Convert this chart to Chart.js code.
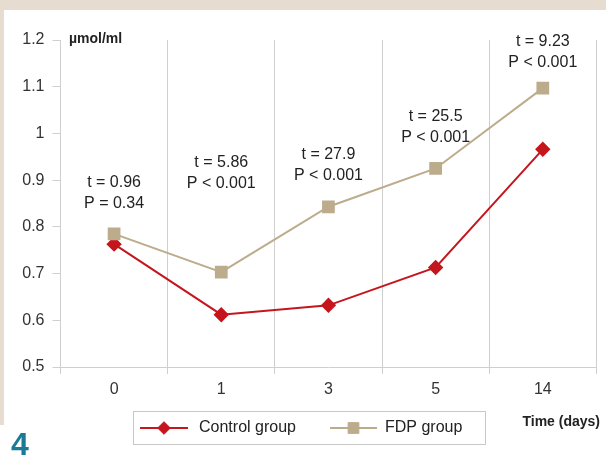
<!DOCTYPE html>
<html>
<head>
<meta charset="utf-8">
<script src="https://cdn.jsdelivr.net/npm/chart.js@4.4.0/dist/chart.umd.min.js"></script>
<style>
html,body{margin:0;padding:0;background:#fff;}
canvas{display:block;}
</style>
</head>
<body>
<canvas id="c" width="606" height="457"></canvas>
<script>
// ---- data ----
const categories = ["0", "1", "3", "5", "14"];
const controlValues = [0.763, 0.612, 0.632, 0.713, 0.966];
const fdpValues = [0.785, 0.703, 0.843, 0.925, 1.097];
const seriesNames = ["Control group", "FDP group"];
const tStats = ["t = 0.96", "t = 5.86", "t = 27.9", "t = 25.5", "t = 9.23"];
const pStats = ["P = 0.34", "P < 0.001", "P < 0.001", "P < 0.001", "P < 0.001"];
const annotationAnchor = [0.894, 0.937, 0.954, 1.035, 1.196]; // y value of first text line
const yTitle = "µmol/ml";
const xTitle = "Time (days)";
const figureNumber = "4";

const RED = "#c4161c";
const TAN = "#bcac8c";
const GRID = "#cfcfcf";
const FONT = "'Liberation Sans', Arial, sans-serif";

const decor = {
  id: "decor",
  beforeDraw(chart) {
    const ctx = chart.ctx;
    ctx.save();
    ctx.fillStyle = "#fff";
    ctx.fillRect(0, 0, chart.width, chart.height);
    ctx.fillStyle = "#e6ddd0";
    ctx.fillRect(0, 0, chart.width, 10);
    ctx.fillRect(0, 0, 4, 425);
    ctx.restore();
  },
  afterDraw(chart) {
    const ctx = chart.ctx;
    const xs = chart.scales.x, ys = chart.scales.y;
    ctx.save();
    // annotations
    ctx.fillStyle = "#222";
    ctx.font = "16px " + FONT;
    ctx.textAlign = "center";
    ctx.textBaseline = "middle";
    categories.forEach((c, i) => {
      const x = xs.getPixelForValue(i);
      const y = ys.getPixelForValue(annotationAnchor[i]);
      ctx.fillText(tStats[i], x, y);
      ctx.fillText(pStats[i], x, y + 21);
    });
    // axis titles
    ctx.font = "bold 14px " + FONT;
    ctx.textAlign = "left";
    ctx.fillText(yTitle, 69, 39);
    ctx.textAlign = "right";
    ctx.fillText(xTitle, 600, 422);
    // legend
    ctx.strokeStyle = "#c8c8c8";
    ctx.lineWidth = 1;
    ctx.fillStyle = "#fff";
    ctx.fillRect(133.5, 411.5, 352, 33);
    ctx.strokeRect(133.5, 411.5, 352, 33);
    const ly = 428;
    const ds = chart.data.datasets;
    const entries = [{x0: 140, x1: 188, tx: 199}, {x0: 330, x1: 377, tx: 385}];
    entries.forEach((e, i) => {
      const d = ds.find(s => s.label === seriesNames[i]);
      ctx.strokeStyle = d.borderColor;
      ctx.lineWidth = 2;
      ctx.beginPath(); ctx.moveTo(e.x0, ly); ctx.lineTo(e.x1, ly); ctx.stroke();
      ctx.fillStyle = d.pointBackgroundColor;
      ctx.strokeStyle = d.pointBackgroundColor;
      ctx.lineWidth = 1;
      Chart.helpers.drawPoint(ctx, {pointStyle: d.pointStyle, radius: d.pointRadius, borderWidth: 1, rotation: 0}, (e.x0 + e.x1) / 2, ly);
      ctx.fillStyle = "#222";
      ctx.font = "16px " + FONT;
      ctx.textAlign = "left";
      ctx.textBaseline = "middle";
      ctx.fillText(seriesNames[i], e.tx, ly);
    });
    // figure number
    ctx.fillStyle = "#1b7a94";
    ctx.font = "bold 32px 'Liberation Sans Narrow', " + FONT;
    ctx.textAlign = "left";
    ctx.textBaseline = "alphabetic";
    ctx.fillText(figureNumber, 11, 455);
    ctx.restore();
  }
};

new Chart(document.getElementById("c"), {
  type: "line",
  data: {
    labels: categories,
    datasets: [
      {
        label: seriesNames[0], data: controlValues, borderColor: RED, backgroundColor: RED,
        pointBackgroundColor: RED, pointBorderColor: RED, pointStyle: "rectRot", pointRadius: 6.3,
        borderWidth: 2, tension: 0, order: 2
      },
      {
        label: seriesNames[1], data: fdpValues, borderColor: TAN, backgroundColor: TAN,
        pointBackgroundColor: TAN, pointBorderColor: TAN, pointStyle: "rect", pointRadius: 7.6,
        borderWidth: 2, tension: 0, order: 1
      }
    ]
  },
  options: {
    responsive: false,
    animation: false,
    events: [],
    layout: {padding: {left: 0, top: 40, right: 9, bottom: 0}},
    plugins: {legend: {display: false}, tooltip: {enabled: false}},
    scales: {
      x: {
        offset: true,
        grid: {display: true, offset: true, color: GRID, lineWidth: 1, tickLength: 7, drawTicks: true},
        border: {display: true, color: GRID},
        ticks: {color: "#333", font: {size: 16, family: FONT}, padding: 6},
        afterFit(s) { s.height = 90; }
      },
      y: {
        min: 0.5, max: 1.2,
        grid: {drawOnChartArea: false, drawTicks: true, tickLength: 8, color: GRID},
        border: {display: true, color: GRID},
        ticks: {stepSize: 0.1, color: "#333", font: {size: 16, family: FONT}, padding: 8,
          callback: v => String(+v.toFixed(1))},
        afterFit(s) { s.width = 60.5; }
      }
    }
  },
  plugins: [decor]
});
</script>
</body>
</html>
